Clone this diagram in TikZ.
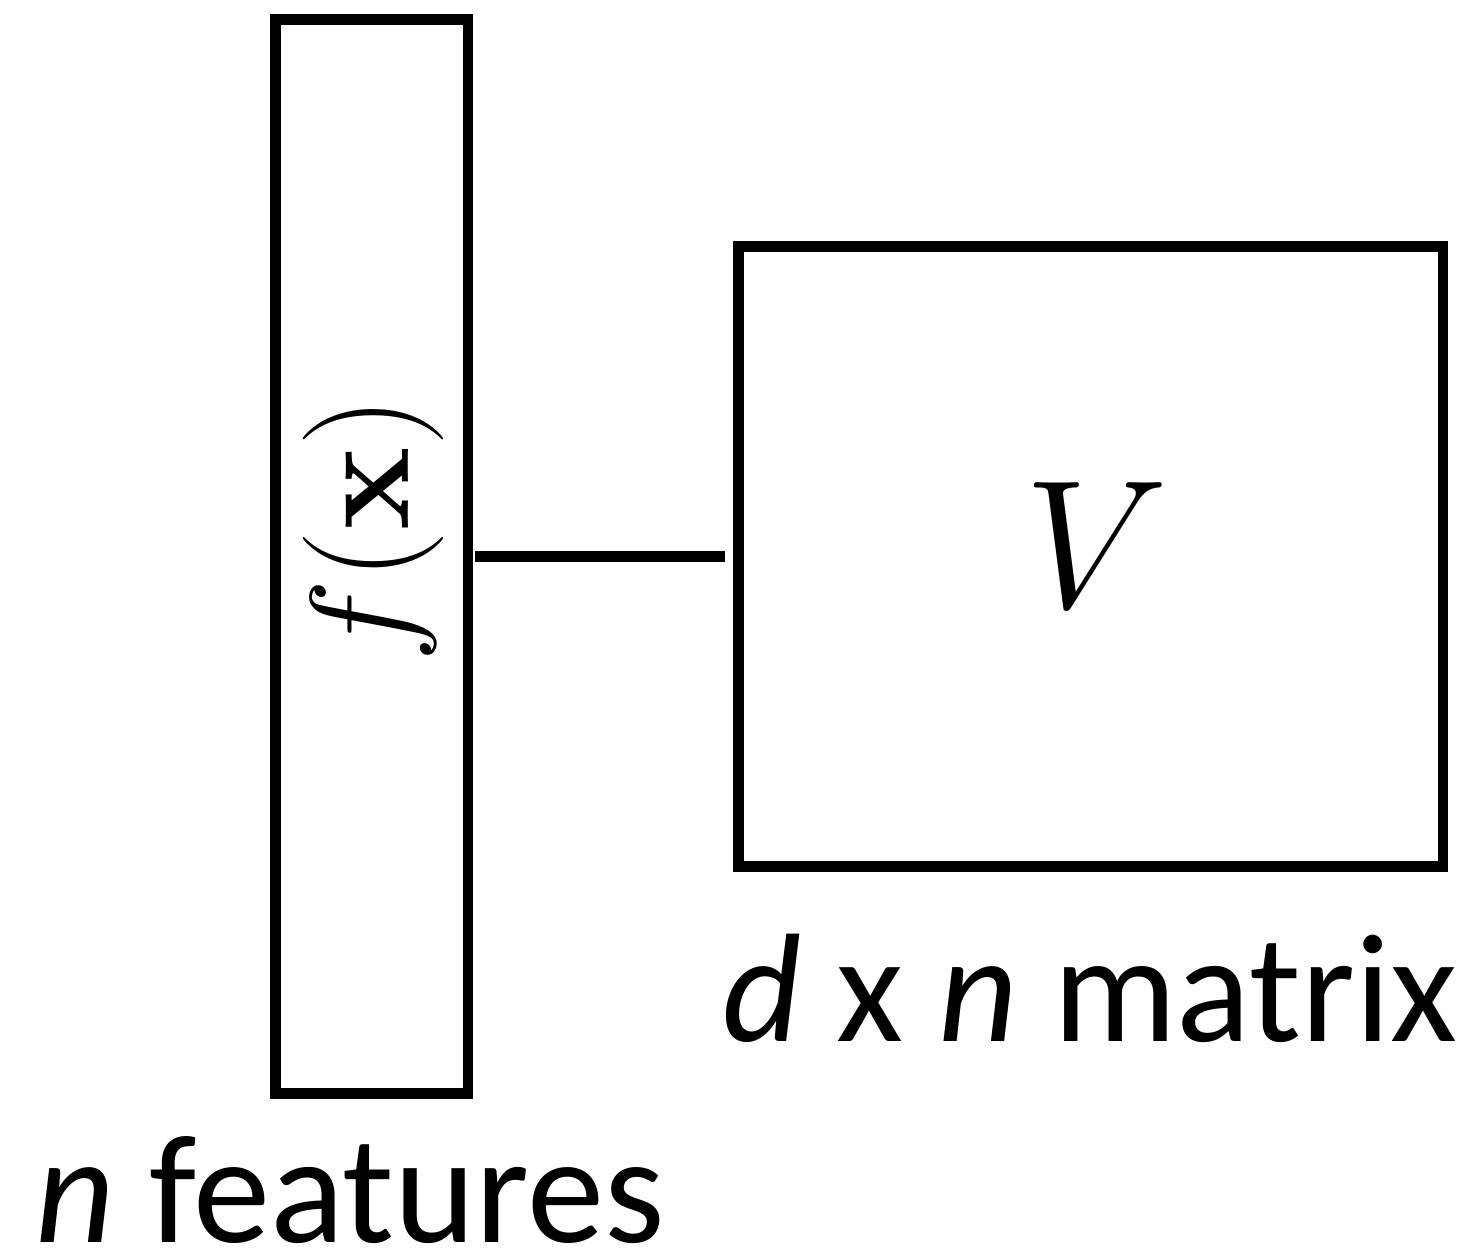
\RequirePackage{fix-cm}
\documentclass[tikz,border=0pt]{standalone}
\usepackage[no-math]{fontspec}
\newfontfamily\labelfont{Carlito}
\usepackage{amsmath}

\begin{document}
\begin{tikzpicture}[line cap=butt, line join=miter,
    box/.style={draw=black, line width=3pt, minimum width=#1},
    lbl/.style={font=\labelfont\fontsize{44}{52}\selectfont, inner sep=0pt, anchor=base}]

\useasboundingbox (0,0) rectangle (14.76,12.53);

% feature vector and matrix
\node[box=1.925cm, minimum height=10.74cm] (feat) at (3.7175,6.965) {};
\node[box=7.045cm, minimum height=6.196cm] (mat) at (10.9075,6.965) {};

\node[rotate=90, inner sep=0pt, font=\fontsize{40}{48}\selectfont] (fx) at (3.73,7.23) {$f(\mathbf{x})$};
\node[inner sep=0pt, font=\fontsize{52}{60}\selectfont] (vv) at (10.97,7.08) {$V$};

\draw[black, line width=3pt, shorten <=0.5pt, shorten >=2.35pt] (feat.east) -- (mat.west);

% labels
\node[lbl] (nfeat) at (3.50,0.11) {\textit{n} features};
\node[lbl] (dnmat) at (10.90,2.12) {\textit{d} x \textit{n} matrix};
\end{tikzpicture}
\end{document}
